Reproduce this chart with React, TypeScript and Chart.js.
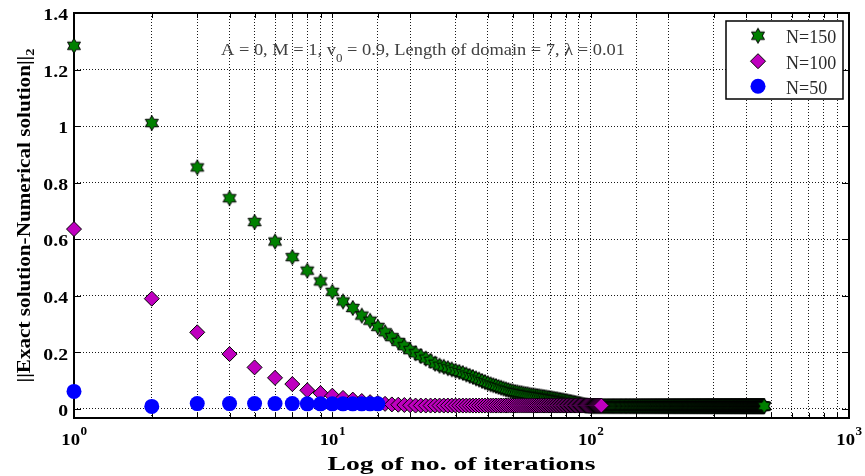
import React, { useEffect, useRef } from 'react';
import { Chart, registerables } from 'chart.js';

Chart.register(...registerables);

// ---------------- data ----------------
const seriesLabels = ['N=150', 'N=100', 'N=50'];

// error norm per iteration (iteration = index + 1)
const errN50 = [0.062, 0.009, 0.019, 0.019, 0.019, 0.019, 0.019, 0.018, 0.018, 0.018, 0.018, 0.018, 0.018, 0.018, 0.018];

const errN100 = [
  0.636, 0.390, 0.271, 0.194, 0.147, 0.110, 0.088, 0.066, 0.056, 0.047,
  0.039, 0.033, 0.028, 0.024, 0.021, 0.018, 0.016, 0.015, 0.014, 0.013,
  // 21-40
  0.012, 0.012, 0.012, 0.012, 0.012, 0.012, 0.012, 0.012, 0.012, 0.012, 0.012, 0.012, 0.012, 0.012, 0.012, 0.012, 0.012, 0.012, 0.012, 0.012,
  // 41-60
  0.012, 0.012, 0.012, 0.012, 0.012, 0.012, 0.012, 0.012, 0.012, 0.012, 0.012, 0.012, 0.012, 0.012, 0.012, 0.012, 0.012, 0.012, 0.012, 0.012,
  // 61-80
  0.012, 0.012, 0.012, 0.012, 0.012, 0.012, 0.012, 0.012, 0.012, 0.012, 0.012, 0.012, 0.012, 0.012, 0.012, 0.012, 0.012, 0.012, 0.012, 0.012,
  // 81-100
  0.012, 0.012, 0.012, 0.012, 0.012, 0.012, 0.012, 0.012, 0.012, 0.012, 0.012, 0.012, 0.012, 0.012, 0.012, 0.012, 0.012, 0.012, 0.012, 0.012,
  // 101-110
  0.012, 0.012, 0.012, 0.012, 0.012, 0.012, 0.012, 0.012, 0.012, 0.012,
];

const errN150 = [
  // 1-10
  1.284, 1.011, 0.854, 0.745, 0.661, 0.592, 0.537, 0.489, 0.451, 0.414,
  // 11-20
  0.380, 0.357, 0.330, 0.312, 0.290, 0.271, 0.254, 0.237, 0.222, 0.208,
  // 21-30
  0.197, 0.187, 0.178, 0.170, 0.160, 0.153, 0.149, 0.144, 0.140, 0.135,
  // 31-40
  0.131, 0.127, 0.122, 0.117, 0.113, 0.108, 0.104, 0.099, 0.095, 0.091,
  // 41-50
  0.087, 0.084, 0.081, 0.078, 0.075, 0.072, 0.069, 0.067, 0.064, 0.062,
  // 51-60
  0.060, 0.059, 0.057, 0.056, 0.054, 0.053, 0.052, 0.050, 0.049, 0.048,
  // 61-70
  0.047, 0.046, 0.045, 0.044, 0.043, 0.042, 0.041, 0.040, 0.039, 0.038,
  // 71-80
  0.037, 0.036, 0.035, 0.034, 0.033, 0.032, 0.031, 0.030, 0.029, 0.028,
  // 81-90
  0.027, 0.026, 0.025, 0.024, 0.023, 0.022, 0.021, 0.020, 0.019, 0.018,
  // 91-100
  0.017, 0.016, 0.015, 0.014, 0.013, 0.012, 0.012, 0.011, 0.011, 0.010,
  // 101-120
  0.01, 0.01, 0.01, 0.01, 0.01, 0.01, 0.01, 0.01, 0.01, 0.01, 0.01, 0.01, 0.01, 0.01, 0.01, 0.01, 0.01, 0.01, 0.01, 0.01,
  // 121-140
  0.01, 0.01, 0.01, 0.01, 0.01, 0.01, 0.01, 0.01, 0.01, 0.01, 0.01, 0.01, 0.01, 0.01, 0.01, 0.01, 0.01, 0.01, 0.01, 0.01,
  // 141-160
  0.01, 0.01, 0.01, 0.01, 0.01, 0.01, 0.01, 0.01, 0.01, 0.01, 0.01, 0.01, 0.01, 0.01, 0.01, 0.01, 0.01, 0.01, 0.01, 0.01,
  // 161-180
  0.01, 0.01, 0.01, 0.01, 0.01, 0.01, 0.01, 0.01, 0.01, 0.01, 0.01, 0.01, 0.01, 0.01, 0.01, 0.01, 0.01, 0.01, 0.01, 0.01,
  // 181-200
  0.01, 0.01, 0.01, 0.01, 0.01, 0.01, 0.01, 0.01, 0.01, 0.01, 0.01, 0.01, 0.01, 0.01, 0.01, 0.01, 0.01, 0.01, 0.01, 0.01,
  // 201-220
  0.01, 0.01, 0.01, 0.01, 0.01, 0.01, 0.01, 0.01, 0.01, 0.01, 0.01, 0.01, 0.01, 0.01, 0.01, 0.01, 0.01, 0.01, 0.01, 0.01,
  // 221-240
  0.01, 0.01, 0.01, 0.01, 0.01, 0.01, 0.01, 0.01, 0.01, 0.01, 0.01, 0.01, 0.01, 0.01, 0.01, 0.01, 0.01, 0.01, 0.01, 0.01,
  // 241-260
  0.01, 0.01, 0.01, 0.01, 0.01, 0.01, 0.01, 0.01, 0.01, 0.01, 0.01, 0.01, 0.01, 0.01, 0.01, 0.01, 0.01, 0.01, 0.01, 0.01,
  // 261-280
  0.01, 0.01, 0.01, 0.01, 0.01, 0.01, 0.01, 0.01, 0.01, 0.01, 0.01, 0.01, 0.01, 0.01, 0.01, 0.01, 0.01, 0.01, 0.01, 0.01,
  // 281-300
  0.01, 0.01, 0.01, 0.01, 0.01, 0.01, 0.01, 0.01, 0.01, 0.01, 0.01, 0.01, 0.01, 0.01, 0.01, 0.01, 0.01, 0.01, 0.01, 0.01,
  // 301-320
  0.01, 0.01, 0.01, 0.01, 0.01, 0.01, 0.01, 0.01, 0.01, 0.01, 0.01, 0.01, 0.01, 0.01, 0.01, 0.01, 0.01, 0.01, 0.01, 0.01,
  // 321-340
  0.01, 0.01, 0.01, 0.01, 0.01, 0.01, 0.01, 0.01, 0.01, 0.01, 0.01, 0.01, 0.01, 0.01, 0.01, 0.01, 0.01, 0.01, 0.01, 0.01,
  // 341-360
  0.01, 0.01, 0.01, 0.01, 0.01, 0.01, 0.01, 0.01, 0.01, 0.01, 0.01, 0.01, 0.01, 0.01, 0.01, 0.01, 0.01, 0.01, 0.01, 0.01,
  // 361-380
  0.01, 0.01, 0.01, 0.01, 0.01, 0.01, 0.01, 0.01, 0.01, 0.01, 0.01, 0.01, 0.01, 0.01, 0.01, 0.01, 0.01, 0.01, 0.01, 0.01,
  // 381-400
  0.01, 0.01, 0.01, 0.01, 0.01, 0.01, 0.01, 0.01, 0.01, 0.01, 0.01, 0.01, 0.01, 0.01, 0.01, 0.01, 0.01, 0.01, 0.01, 0.01,
  // 401-420
  0.01, 0.01, 0.01, 0.01, 0.01, 0.01, 0.01, 0.01, 0.01, 0.01, 0.01, 0.01, 0.01, 0.01, 0.01, 0.01, 0.01, 0.01, 0.01, 0.01,
  // 421-440
  0.01, 0.01, 0.01, 0.01, 0.01, 0.01, 0.01, 0.01, 0.01, 0.01, 0.01, 0.01, 0.01, 0.01, 0.01, 0.01, 0.01, 0.01, 0.01, 0.01,
  // 441-460
  0.01, 0.01, 0.01, 0.01, 0.01, 0.01, 0.01, 0.01, 0.01, 0.01, 0.01, 0.01, 0.01, 0.01, 0.01, 0.01, 0.01, 0.01, 0.01, 0.01,
  // 461-470
  0.01, 0.01, 0.01, 0.01, 0.01, 0.01, 0.01, 0.01, 0.01, 0.01,
];

const xTickExponents = [0, 1, 2, 3];
const yTickValues = [0, 0.2, 0.4, 0.6, 0.8, 1, 1.2, 1.4];
const yTickLabels = ['0', '0.2', '0.4', '0.6', '0.8', '1', '1.2', '1.4'];

const xTitle = 'Log of no. of iterations';
const yTitleMain = '||Exact solution-Numerical solution||';
const yTitleSub = '2';
const noteBefore = 'A = 0, M = 1, v';
const noteSub = '0';
const noteAfter = ' = 0.9, Length of domain = 7, λ = 0.01';

// ---------------- styles ----------------
const GREEN = '#008000';
const MAGENTA = '#BF00BF';
const BLUE = '#0000FF';
const FONT = '"Liberation Serif", "Times New Roman", serif';

function makeHexagram(R: number, fill: string, stroke: string): HTMLCanvasElement {
  const size = Math.ceil(2 * R + 3);
  const c = document.createElement('canvas');
  c.width = size;
  c.height = size;
  const ctx = c.getContext('2d')!;
  const cx = size / 2;
  const cy = size / 2;
  const r = R / Math.sqrt(3);
  ctx.beginPath();
  for (let i = 0; i < 12; i++) {
    const ang = -Math.PI / 2 + (i * Math.PI) / 6;
    const rad = i % 2 === 0 ? R : r;
    const px = cx + rad * Math.cos(ang);
    const py = cy + rad * Math.sin(ang);
    if (i === 0) ctx.moveTo(px, py);
    else ctx.lineTo(px, py);
  }
  ctx.closePath();
  ctx.fillStyle = fill;
  ctx.fill();
  ctx.lineWidth = 1;
  ctx.strokeStyle = stroke;
  ctx.stroke();
  return c;
}

// draw text with a horizontal stretch factor k
function drawText(ctx: CanvasRenderingContext2D, text: string, x: number, y: number, font: string, k: number, align: CanvasTextAlign) {
  ctx.save();
  ctx.font = font;
  ctx.textAlign = align;
  ctx.textBaseline = 'alphabetic';
  ctx.translate(x, y);
  ctx.scale(k, 1);
  ctx.fillText(text, 0, 0);
  ctx.restore();
}

function measure(ctx: CanvasRenderingContext2D, text: string, font: string) {
  ctx.font = font;
  return ctx.measureText(text).width;
}

export default function App() {
  const ref = useRef<HTMLCanvasElement>(null);

  useEffect(() => {
    const canvas = ref.current!;
    const starImg = makeHexagram(7.5, GREEN, '#000');

    const framePlugin = {
      id: 'matlabFrame',
      beforeDatasetsDraw(chart: any) {
        const { ctx, chartArea } = chart;
        const { left, right, top, bottom } = chartArea;
        const xs = chart.scales.x;
        const ys = chart.scales.y;
        ctx.save();
        ctx.strokeStyle = '#000';
        ctx.lineWidth = 1;
        ctx.beginPath();
        for (const t of xs.ticks) {
          const px = Math.round(xs.getPixelForValue(t.value)) + 0.5;
          ctx.moveTo(px, bottom);
          ctx.lineTo(px, bottom - 5);
          ctx.moveTo(px, top);
          ctx.lineTo(px, top + 5);
        }
        for (const v of yTickValues) {
          const py = Math.round(ys.getPixelForValue(v)) + 0.5;
          ctx.moveTo(left, py);
          ctx.lineTo(left + 7, py);
          ctx.moveTo(right, py);
          ctx.lineTo(right - 7, py);
        }
        ctx.stroke();
        ctx.lineWidth = 2;
        ctx.strokeRect(left, top, right - left, bottom - top);
        ctx.restore();
      },
      afterDraw(chart: any) {
        const { ctx, chartArea } = chart;
        const { left, right, top, bottom } = chartArea;
        const xs = chart.scales.x;
        const ys = chart.scales.y;
        ctx.save();
        ctx.fillStyle = '#000';

        // y tick labels
        const yFont = `bold 17px ${FONT}`;
        yTickValues.forEach((v, i) => {
          const py = ys.getPixelForValue(v);
          drawText(ctx, yTickLabels[i], left - 6, py + 7.2, yFont, 1.16, 'right');
        });

        // x tick labels 10^k
        const bFont = `bold 17px ${FONT}`;
        const sFont = `bold 12px ${FONT}`;
        const kx = 1.1;
        for (const e of xTickExponents) {
          const px = xs.getPixelForValue(Math.pow(10, e));
          const wb = measure(ctx, '10', bFont) * kx;
          const ws = measure(ctx, String(e), sFont) * kx;
          const x0 = px - (wb + ws) / 2;
          drawText(ctx, '10', x0, 445, bFont, kx, 'left');
          drawText(ctx, String(e), x0 + wb + 0.5, 435, sFont, kx, 'left');
        }

        // x title (stretched to reference width)
        const xtFont = `bold 19px ${FONT}`;
        const kxt = 268 / measure(ctx, xTitle, xtFont);
        drawText(ctx, xTitle, (left + right) / 2, 470, xtFont, kxt, 'center');

        // y title (rotated, stretched along its length)
        const ytFont = `bold 19px ${FONT}`;
        const ysFont = `bold 13px ${FONT}`;
        const wm0 = measure(ctx, yTitleMain, ytFont);
        const ws0 = measure(ctx, yTitleSub, ysFont);
        const kyt = 334 / (wm0 + ws0);
        ctx.save();
        ctx.translate(30, (top + bottom) / 2);
        ctx.rotate(-Math.PI / 2);
        const sx = -((wm0 + ws0) * kyt) / 2;
        drawText(ctx, yTitleMain, sx, 0, ytFont, kyt, 'left');
        drawText(ctx, yTitleSub, sx + wm0 * kyt, 4, ysFont, kyt, 'left');
        ctx.restore();

        // annotation
        const nFont = `normal 17px ${FONT}`;
        const nsFont = `normal 12px ${FONT}`;
        const nw = measure(ctx, noteBefore, nFont) + measure(ctx, noteSub, nsFont) + measure(ctx, noteAfter, nFont);
        const kn = 404 / nw;
        ctx.fillStyle = '#404040';
        let nx = 221;
        drawText(ctx, noteBefore, nx, 55, nFont, kn, 'left');
        nx += measure(ctx, noteBefore, nFont) * kn;
        drawText(ctx, noteSub, nx, 62, nsFont, kn, 'left');
        nx += measure(ctx, noteSub, nsFont) * kn;
        drawText(ctx, noteAfter, nx, 55, nFont, kn, 'left');

        // legend
        const lx = 726, ly = 21, lw = 117, lh = 78;
        ctx.fillStyle = '#fff';
        ctx.fillRect(lx, ly, lw, lh);
        ctx.strokeStyle = '#000';
        ctx.lineWidth = 1.5;
        ctx.strokeRect(lx, ly, lw, lh);
        const rows = [35.7, 61.2, 86.2];
        const mx = 758;
        ctx.drawImage(starImg, mx - starImg.width / 2, rows[0] - starImg.height / 2);
        ctx.beginPath();
        ctx.moveTo(mx, rows[1] - 7.5);
        ctx.lineTo(mx + 7.5, rows[1]);
        ctx.lineTo(mx, rows[1] + 7.5);
        ctx.lineTo(mx - 7.5, rows[1]);
        ctx.closePath();
        ctx.fillStyle = MAGENTA;
        ctx.fill();
        ctx.lineWidth = 1;
        ctx.strokeStyle = '#000';
        ctx.stroke();
        ctx.beginPath();
        ctx.arc(mx, rows[2], 7.5, 0, Math.PI * 2);
        ctx.fillStyle = BLUE;
        ctx.fill();
        ctx.fillStyle = '#2a2a2a';
        seriesLabels.forEach((s, i) => drawText(ctx, s, 786, rows[i] + 7.6, `normal 18px ${FONT}`, 1, 'left'));

        ctx.restore();
      },
    };

    const gridStyle = { color: 'rgba(0,0,0,0.9)', lineWidth: 1, drawTicks: false };

    const chart = new Chart(canvas, {
      type: 'scatter',
      data: {
        datasets: [
          {
            label: seriesLabels[0],
            data: errN150.map((y, i) => ({ x: i + 1, y })),
            pointStyle: starImg as any,
            pointRadius: 7.5,
            order: 2,
            clip: false as any,
          },
          {
            label: seriesLabels[1],
            data: errN100.map((y, i) => ({ x: i + 1, y })),
            pointStyle: 'rectRot',
            pointRadius: 7.5,
            backgroundColor: MAGENTA,
            borderColor: '#000',
            borderWidth: 1,
            order: 1,
            clip: false as any,
          },
          {
            label: seriesLabels[2],
            data: errN50.map((y, i) => ({ x: i + 1, y })),
            pointStyle: 'circle',
            pointRadius: 7.5,
            backgroundColor: BLUE,
            borderColor: BLUE,
            borderWidth: 0,
            order: 0,
            clip: false as any,
          },
        ],
      },
      options: {
        responsive: false,
        animation: false,
        devicePixelRatio: 1,
        events: [],
        layout: { padding: { left: 0, top: 13, right: 16, bottom: 0 } },
        plugins: { legend: { display: false }, tooltip: { enabled: false }, title: { display: false } },
        scales: {
          x: {
            type: 'logarithmic',
            min: 1,
            max: 1000,
            ticks: { display: false, autoSkip: false },
            grid: gridStyle,
            border: { display: false, dash: [1, 2] },
            afterFit: (s: any) => {
              s.height = 58;
            },
          },
          y: {
            type: 'linear',
            min: -0.032,
            max: 1.4,
            ticks: { display: false, stepSize: 0.2, includeBounds: false },
            grid: gridStyle,
            border: { display: false, dash: [1, 2] },
            afterFit: (s: any) => {
              s.width = 74;
            },
          },
        },
      } as any,
      plugins: [framePlugin],
    });

    return () => chart.destroy();
  }, []);

  return (
    <div style={{ position: 'absolute', left: 0, top: 0, width: 865, height: 476, background: '#fff' }}>
      <canvas ref={ref} width={865} height={476} style={{ display: 'block' }} />
    </div>
  );
}
